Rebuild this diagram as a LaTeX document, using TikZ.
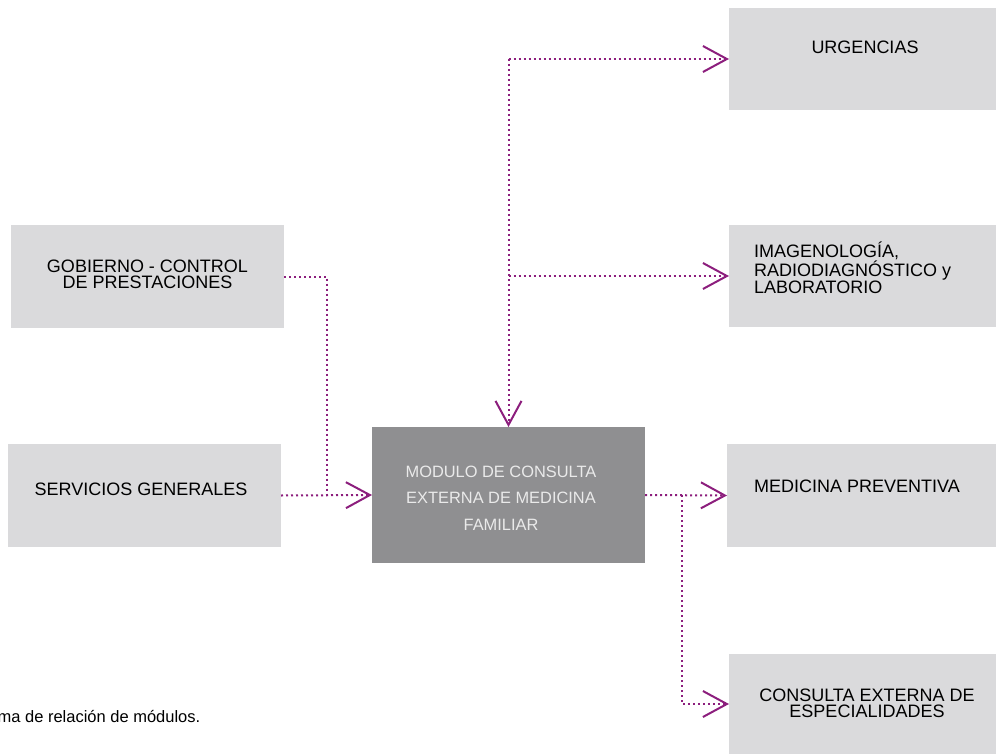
\documentclass[tikz,border=0pt]{standalone}
\usepackage{fontspec}
\setmainfont{Liberation Sans}
\usetikzlibrary{arrows.meta}
\definecolor{boxgray}{HTML}{DADADC}
\definecolor{modgray}{HTML}{8F8F91}
\definecolor{magenta}{RGB}{140,30,125}
\definecolor{modtext}{HTML}{EAEAEA}
\tikzset{
  box/.style={draw=none, fill=boxgray, inner sep=0pt, outer sep=0pt},
  modbox/.style={draw=none, fill=modgray, inner sep=0pt, outer sep=0pt},
  lbl/.style={inner sep=0pt, outer sep=0pt, text=black, font=\fontsize{18}{16}\selectfont, align=center},
  conn/.style={draw=magenta, line width=2pt, dash pattern=on 2pt off 3pt},
  arr/.style={-{Straight Barb[length=24pt,width=26pt,line width=2pt]}}
}
\begin{document}
\begin{tikzpicture}[x=1pt,y=-1pt]
\useasboundingbox (0,0) rectangle (996,754);
\clip (0,0) rectangle (996,754);
% boxes
\node[box, minimum width=267pt, minimum height=102pt] (urg) at (862.5,59) {};
\node[box, minimum width=267pt, minimum height=102pt] (img) at (862.5,276) {};
\node[box, minimum width=269pt, minimum height=103pt] (med) at (861.5,495.5) {};
\node[box, minimum width=267pt, minimum height=100pt] (esp) at (862.5,704) {};
\node[box, minimum width=273pt, minimum height=103pt] (gob) at (147.5,276.5) {};
\node[box, minimum width=273pt, minimum height=103pt] (ser) at (144.5,495.5) {};
\node[modbox, minimum width=273pt, minimum height=136pt] (mod) at (508.5,495) {};
% labels
\node[lbl, anchor=base] (urgT) at (865,54) {URGENCIAS};
\node[lbl, anchor=north west, align=left] (imgT) at (754,242) {IMAGENOLOGÍA,\\RADIODIAGNÓSTICO y\\LABORATORIO};
\node[lbl, anchor=north] (gobT) at (147.5,260) {GOBIERNO - CONTROL\\DE PRESTACIONES};
\node[lbl, anchor=base] (serT) at (141,495) {SERVICIOS GENERALES};
\node[lbl, anchor=base] (medT) at (857,492) {MEDICINA PREVENTIVA};
\node[lbl, anchor=north] (espT) at (867,689) {CONSULTA EXTERNA DE\\ESPECIALIDADES};
\node[lbl, anchor=north, text=modtext, font=\fontsize{16.4}{26.5}\selectfont] (modT) at (501,466) {MODULO DE CONSULTA\\EXTERNA DE MEDICINA\\FAMILIAR};
\node[inner sep=0pt, anchor=base east, font=\fontsize{16.5}{18}\selectfont] (cap) at (200.5,722) {Esquema de relación de módulos.};
% junctions
\coordinate (j1) at (327,495);
\coordinate (t1) at (508.5,59);
\coordinate (t2) at (508.5,276);
\coordinate (r1) at (682,495);
% connectors
\draw[conn] (gob.east) -| (j1);
\draw[conn, arr] (ser.east) -- (mod.west);
\draw[conn, arr] (t1) -- (mod.north);
\draw[conn, arr] (t1) -- (urg.west);
\draw[conn, arr] (t2) -- (img.west);
\draw[conn, arr] (mod.east) -- (med.west);
\draw[conn, arr] (r1) |- (esp.west);
\end{tikzpicture}
\end{document}
